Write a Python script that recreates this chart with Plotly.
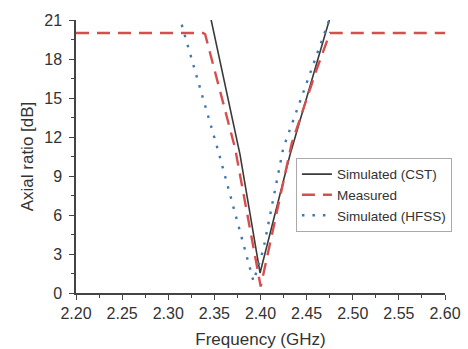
import plotly.graph_objects as go

# Data
cst_freq = [2.3453, 2.3778, 2.3995, 2.4320, 2.4746]
cst_ar = [21.4, 10.64, 1.54, 10.64, 21.0]

meas_freq = [2.20, 2.3377, 2.3400, 2.3724, 2.4002, 2.4338, 2.4609, 2.4753, 2.60]
meas_ar = [20.0, 20.0, 19.9, 11.15, 0.5, 11.5, 17.2, 20.0, 20.0]

hfss_freq = [2.3146, 2.3543, 2.3924, 2.4030, 2.4247, 2.4745]
hfss_ar = [20.64, 10.9, 0.9, 3.33, 11.15, 21.0]

x_ticks = [2.20, 2.25, 2.30, 2.35, 2.40, 2.45, 2.50, 2.55, 2.60]
y_ticks = [0, 3, 6, 9, 12, 15, 18, 21]

FONT = "Arial, Liberation Sans, sans-serif"
TXT = "#333333"

fig = go.Figure()
fig.add_trace(go.Scatter(x=cst_freq, y=cst_ar, mode="lines", name="Simulated (CST)",
                         line=dict(color="#3a3a3a", width=1.6)))
fig.add_trace(go.Scatter(x=meas_freq, y=meas_ar, mode="lines", name="Measured",
                         line=dict(color="#d64f4f", width=2.4, dash="13px,8px")))
fig.add_trace(go.Scatter(x=hfss_freq, y=hfss_ar, mode="lines", name="Simulated (HFSS)",
                         line=dict(color="#3f78ad", width=2.4, dash="2.5px,8px")))

axis_common = dict(showline=True, linecolor="#444444", linewidth=1.5, mirror=False,
                   ticks="outside", ticklen=5, tickwidth=1.3, tickcolor="#444444",
                   showgrid=False, zeroline=False, automargin=False,
                   tickfont=dict(family=FONT, size=16, color=TXT),
                   title_font=dict(family=FONT, size=17, color=TXT))

fig.update_xaxes(range=[2.20, 2.60], tickvals=x_ticks,
                 ticktext=[f"{v:.2f}" for v in x_ticks],
                 title_text="Frequency (GHz)", title_standoff=12,
                 minor=dict(ticks="outside", ticklen=3, tickwidth=1, tickcolor="#444444", dtick=0.025),
                 **axis_common)
fig.update_yaxes(range=[0, 21], tickvals=y_ticks,
                 ticklabelstandoff=4,
                 title_text="Axial ratio [dB]", title_standoff=6,
                 minor=dict(ticks="outside", ticklen=3, tickwidth=1, tickcolor="#444444", dtick=1.5),
                 **axis_common)

fig.update_layout(
    width=468, height=349,
    margin=dict(l=76, r=23, t=20, b=56),
    paper_bgcolor="white", plot_bgcolor="white",
    font=dict(family=FONT, color=TXT),
    showlegend=True,
    legend=dict(x=0.596, y=0.495, xanchor="left", yanchor="top",
                bgcolor="white", bordercolor="#aaaaaa", borderwidth=1,
                font=dict(family=FONT, size=13.5, color=TXT),
                tracegroupgap=0, itemwidth=30),
)

fig.write_html("out.html")
